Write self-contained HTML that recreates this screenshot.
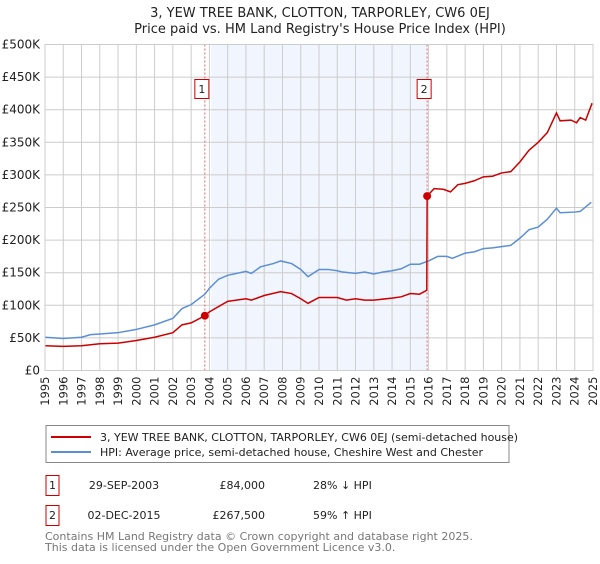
<!DOCTYPE html>
<html><head><meta charset="utf-8"><style>
body{margin:0;background:#fff;font-family:"DejaVu Sans","Liberation Sans",sans-serif;}
svg text{font-family:"DejaVu Sans","Liberation Sans",sans-serif;}
</style></head><body>
<svg id="chart" width="600" height="560" xmlns="http://www.w3.org/2000/svg">
<text x="320" y="17" font-size="13" text-anchor="middle" fill="#222">3, YEW TREE BANK, CLOTTON, TARPORLEY, CW6 0EJ</text>
<text x="320" y="33" font-size="13" text-anchor="middle" fill="#222">Price paid vs. HM Land Registry's House Price Index (HPI)</text>
<g id="plot"></g>
<g>
<rect x="46" y="425.5" width="463" height="37" fill="#fff" stroke="#888"/>
<line x1="51" y1="437" x2="91" y2="437" stroke="#cc0000" stroke-width="2"/>
<text x="100" y="441" font-size="11" fill="#222">3, YEW TREE BANK, CLOTTON, TARPORLEY, CW6 0EJ (semi-detached house)</text>
<line x1="51" y1="452" x2="91" y2="452" stroke="#5b8fd4" stroke-width="2"/>
<text x="100" y="456" font-size="11" fill="#222">HPI: Average price, semi-detached house, Cheshire West and Chester</text>
</g>
<g font-size="11" fill="#222">
<rect x="46" y="475.5" width="13" height="20" fill="#fff" stroke="#cc0000"/>
<text x="52.5" y="489" text-anchor="middle">1</text>
<text x="124" y="489" text-anchor="middle">29-SEP-2003</text>
<text x="265" y="489" text-anchor="end">£84,000</text>
<text x="313" y="489">28% ↓ HPI</text>
<rect x="46" y="505.5" width="13" height="20" fill="#fff" stroke="#cc0000"/>
<text x="52.5" y="519" text-anchor="middle">2</text>
<text x="124" y="519" text-anchor="middle">02-DEC-2015</text>
<text x="265" y="519" text-anchor="end">£267,500</text>
<text x="313" y="519">59% ↑ HPI</text>
</g>
<text x="45" y="540" font-size="11" fill="#777">Contains HM Land Registry data © Crown copyright and database right 2025.</text>
<text x="45" y="551" font-size="11" fill="#777">This data is licensed under the Open Government Licence v3.0.</text>
</svg>
<script>
const hpiYears=[1995,1996,1997,1997.5,1998,1999,2000,2001,2002,2002.5,2003,2003.75,2004,2004.5,2005,2006,2006.3,2006.8,2007.5,2007.9,2008.5,2009,2009.4,2010,2010.5,2011,2011.3,2012,2012.5,2013,2013.5,2014,2014.5,2015,2015.5,2016,2016.5,2017,2017.3,2018,2018.5,2019,2019.5,2020,2020.5,2021,2021.5,2022,2022.5,2023,2023.2,2024,2024.3,2024.9];
const hpiValues=[51,49,51,55,56,58,63,70,80,95,101,117,126,140,146,152,149,159,164,168,164,155,144,155,155,153,151,149,151,148,151,153,156,163,163,168,175,175,172,180,182,187,188,190,192,203,216,220,232,249,242,243,244,258];
const propYears=[1995,1996,1997,1998,1999,2000,2001,2002,2002.5,2003,2003.75,2004,2005,2006,2006.3,2007,2007.9,2008.5,2009,2009.4,2010,2011,2011.5,2012,2012.5,2013,2014,2014.5,2015,2015.5,2015.9,2015.92,2016.3,2016.8,2017.2,2017.6,2018,2018.5,2019,2019.5,2020,2020.5,2021,2021.5,2022,2022.5,2023,2023.2,2023.8,2024.1,2024.3,2024.6,2024.95];
const propValues=[38,37,38,41,42,46,51,58,70,73,84,90,106,110,108,115,121,118,110,103,112,112,108,110,108,108,111,113,118,117,123,267.5,279,278,274,285,287,291,297,298,303,305,320,338,350,365,395,383,384,380,388,384,410];
const saleYears=[2003.75,2015.92];
const saleValues=[84,267.5];
const saleLabels=['1','2'];
const yTicks=[0,50,100,150,200,250,300,350,400,450,500];
const yTickLabels=['£0','£50K','£100K','£150K','£200K','£250K','£300K','£350K','£400K','£450K','£500K'];
const xTicks=[1995,1996,1997,1998,1999,2000,2001,2002,2003,2004,2005,2006,2007,2008,2009,2010,2011,2012,2013,2014,2015,2016,2017,2018,2019,2020,2021,2022,2023,2024,2025];

const L=45,R=593,T=44.5,B=370.5;
const xs=y=>L+(y-1995)/30*(R-L);
const ys=v=>B-v/500*(B-T);
const NS='http://www.w3.org/2000/svg';
const g=document.getElementById('plot');
function mk(tag,attrs){const e=document.createElementNS(NS,tag);for(const k in attrs)e.setAttribute(k,attrs[k]);g.appendChild(e);return e;}

let e=mk('rect',{x:xs(2004.1),y:T,width:xs(saleYears[1])-xs(2004.1),height:B-T,fill:'#eef3fc',opacity:0.8});


xTicks.forEach((t,i)=>{
  const x=xs(t);
  let l=mk('line',{x1:x,y1:T,x2:x,y2:B,stroke:'#cccccc','stroke-width':1});
  
  
  let tx=mk('text',{x:0,y:0,'font-size':11.5,fill:'#222','text-anchor':'end',transform:`translate(${x+4},${B+6}) rotate(-90)`});
  tx.textContent=t;
  
  
});
yTicks.forEach((t,i)=>{
  const y=ys(t);
  let l=mk('line',{x1:L,y1:y,x2:R,y2:y,stroke:'#cccccc','stroke-width':1});
  
  
  let tx=mk('text',{x:L-5,y:y+4,'font-size':12,fill:'#222','text-anchor':'end'});
  tx.textContent=yTickLabels[i];
  
  
});
saleYears.forEach((s,i)=>{
  const x=xs(s);
  let l=mk('line',{x1:x,y1:T,x2:x,y2:B,stroke:'#e06666','stroke-width':1,'stroke-dasharray':'2,2'});
  
  
  let r=mk('rect',{x:x-10,y:79.5,width:14,height:19,fill:'#fff',stroke:'#cc0000'});
  
  
  let tx=mk('text',{x:x-3,y:93,'font-size':11,fill:'#222','text-anchor':'middle'});
  tx.textContent=saleLabels[i];
  
  
});
let pl=mk('polyline',{points:hpiYears.map((y,i)=>xs(y)+','+ys(hpiValues[i])).join(' '),fill:'none',stroke:'#5b8fd4','stroke-width':1.5});


let pp=mk('polyline',{points:propYears.map((y,i)=>xs(y)+','+ys(propValues[i])).join(' '),fill:'none',stroke:'#cc0000','stroke-width':1.5});


saleYears.forEach((s,i)=>{
  let c=mk('circle',{cx:xs(s),cy:ys(saleValues[i]),r:4,fill:'#cc0000'});
  
  
});
let ax=mk('rect',{x:L,y:T,width:R-L,height:B-T,fill:'none',stroke:'#cccccc'});


</script>
</body></html>
